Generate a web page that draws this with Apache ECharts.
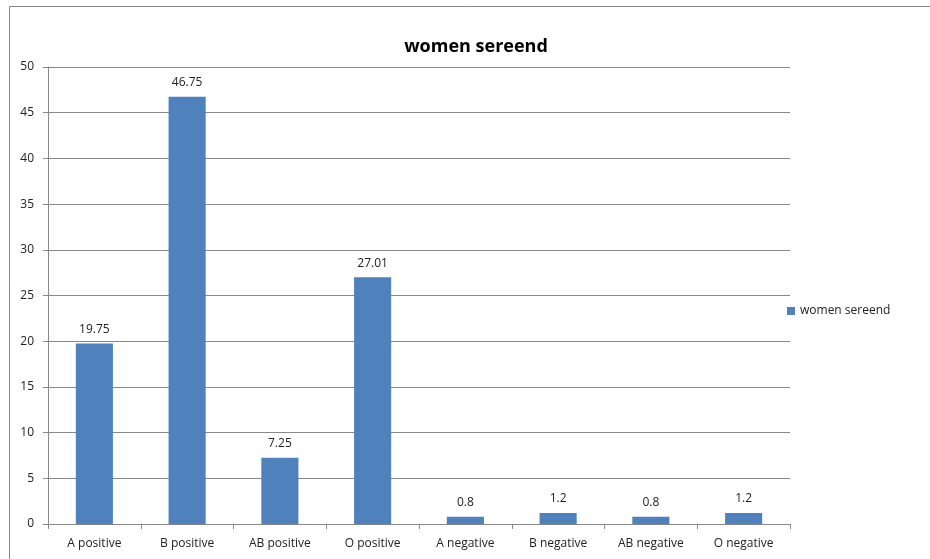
<!DOCTYPE html>
<html><head><meta charset="utf-8">
<script src="https://cdn.jsdelivr.net/npm/echarts@6/dist/echarts.min.js"></script>
<style>html,body{margin:0;padding:0;background:#fff}#c{width:930px;height:559px}</style>
</head><body><div id="c"></div>
<script>
const titleText = 'women sereend';
const seriesName = 'women sereend';
const categories = ['A positive','B positive','AB positive','O positive','A negative','B negative','AB negative','O negative'];
const values = [19.75, 46.75, 7.25, 27.01, 0.8, 1.2, 0.8, 1.2];
const yTicks = [0, 5, 10, 15, 20, 25, 30, 35, 40, 45, 50];

const font = '"Open Sans", "Liberation Sans", sans-serif';
const chart = echarts.init(document.getElementById('c'));
chart.setOption({
  animation: false,
  title: { text: titleText, left: 471, top: 33, textAlign: 'center',
    textStyle: { fontFamily: font, fontSize: 18, fontWeight: 'bold', color: '#000' } },
  legend: { orient: 'vertical', left: 782, top: 300, itemWidth: 8, itemHeight: 8, itemGap: 4,
    icon: 'rect', textStyle: { fontFamily: font, fontSize: 12, color: '#222' }, data: [seriesName] },
  grid: { left: 48, right: 140, top: 67, bottom: 35, containLabel: false },
  xAxis: { type: 'category', data: categories,
    axisLine: { lineStyle: { color: '#888' } },
    axisTick: { show: true, length: 5, lineStyle: { color: '#888' } },
    axisLabel: { fontFamily: font, fontSize: 12, color: '#222', margin: 14 } },
  yAxis: { type: 'value', min: yTicks[0], max: yTicks[yTicks.length-1], interval: 5,
    axisLine: { show: true, lineStyle: { color: '#888' } },
    axisTick: { show: true, length: 5, inside: false, lineStyle: { color: '#888' } },
    splitLine: { lineStyle: { color: '#888' } },
    axisLabel: { fontFamily: font, fontSize: 12, color: '#222', margin: 14 } },
  series: [{ name: seriesName, type: 'bar', data: values, barWidth: '40%',
    itemStyle: { color: '#4F81BD' },
    label: { show: true, position: 'top', distance: 8, fontFamily: font, fontSize: 12, color: '#222' } }],
  graphic: [
    { type: 'line', shape: { x1: 9.5, y1: 6.5, x2: 930, y2: 6.5 }, style: { stroke: '#888', lineWidth: 1 } },
    { type: 'line', shape: { x1: 9.5, y1: 6.5, x2: 9.5, y2: 559 }, style: { stroke: '#888', lineWidth: 1 } }
  ]
});
</script></body></html>
